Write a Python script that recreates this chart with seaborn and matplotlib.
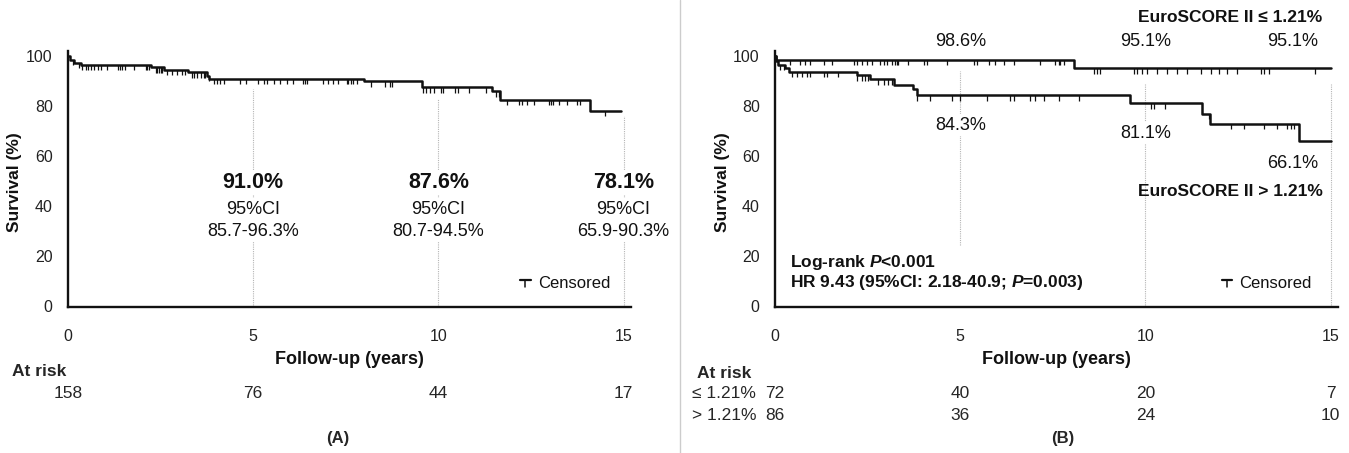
import numpy as np
import pandas as pd
import matplotlib
matplotlib.use("Agg")
import matplotlib.pyplot as plt
import seaborn as sns
from matplotlib import transforms

# ---------------- data ----------------
# Panel A: overall Kaplan-Meier
all_times = [0, 0.05, 0.15, 0.35, 2.23, 2.60, 3.25, 3.76, 3.82, 8.00, 9.57, 11.45, 11.66, 14.08]
all_surv = [100, 98.5, 97.3, 96.5, 95.5, 94.5, 93.5, 92.2, 91.0, 89.9, 87.6, 86.0, 82.5, 78.1]
all_end = 14.94
all_censor = [0.13, 0.30, 0.39, 0.48, 0.55, 0.62, 0.71, 0.80, 0.89, 1.05, 1.34, 1.41, 1.47, 1.53,
              1.77, 2.10, 2.14, 2.19, 2.37, 2.41, 2.45, 2.50, 2.55, 2.68, 2.81, 2.95, 3.08, 3.17,
              3.35, 3.40, 3.49, 3.58, 3.66, 3.71, 3.80, 3.93, 4.02, 4.11, 4.20, 4.65, 4.81, 5.14,
              5.28, 5.37, 5.55, 5.73, 5.91, 6.08, 6.35, 6.40, 6.44, 6.89, 7.02, 7.16, 7.29, 7.52,
              7.56, 7.63, 7.70, 7.79, 8.19, 8.55, 8.68, 8.76, 9.58, 9.67, 9.76, 9.89, 10.07, 10.13,
              10.46, 10.52, 10.83, 11.28, 11.55, 11.64, 11.86, 12.18, 12.27, 12.40, 12.58, 12.98,
              13.03, 13.09, 13.25, 13.48, 13.74, 13.83, 14.51]

# Panel B: EuroSCORE II <= 1.21%
low_times = [0, 0.03, 8.06]
low_surv = [100, 98.6, 95.1]
low_end = 15.0
low_censor = [0.09, 0.41, 0.68, 0.81, 0.95, 1.31, 1.53, 2.12, 2.21, 2.34, 2.48, 2.61, 2.84, 2.93,
              3.02, 3.15, 3.24, 3.29, 3.33, 3.60, 4.01, 4.10, 4.64, 5.36, 5.45, 5.77, 5.95, 6.17,
              6.44, 7.16, 7.57, 7.66, 7.70, 7.79, 8.60, 8.69, 8.78, 9.68, 9.78, 9.91, 10.05, 10.32,
              10.59, 10.86, 11.13, 11.49, 11.76, 11.98, 12.21, 12.48, 13.11, 13.20, 13.33, 14.59]

# Panel B: EuroSCORE II > 1.21%
high_times = [0, 0.02, 0.09, 0.27, 0.39, 2.21, 2.57, 3.22, 3.72, 3.83, 9.59, 11.53, 11.74, 14.14]
high_surv = [100, 98.0, 96.5, 95.3, 93.8, 92.3, 90.8, 88.4, 87.0, 84.3, 81.1, 77.0, 73.0, 66.1]
high_end = 15.0
high_censor = [0.14, 0.25, 0.45, 0.59, 0.72, 0.86, 0.95, 1.31, 1.40, 1.71, 2.21, 2.34, 2.43, 2.52,
               2.79, 2.93, 3.06, 3.15, 3.83, 4.19, 4.78, 5.00, 5.72, 6.35, 6.44, 6.89, 7.03, 7.25,
               7.66, 8.20, 10.14, 10.22, 10.54, 11.71, 12.30, 12.66, 13.20, 13.56, 13.83, 13.92, 14.01]

risk_times = [0, 5, 10, 15]
risk_all = [158, 76, 44, 17]
risk_low = [72, 40, 20, 7]
risk_high = [86, 36, 24, 10]

milestones_a = [5, 10, 15]
surv_a = ["91.0%", "87.6%", "78.1%"]
ci_a = ["85.7-96.3%", "80.7-94.5%", "65.9-90.3%"]
surv_b_low = ["98.6%", "95.1%", "95.1%"]
surv_b_high = ["84.3%", "81.1%", "66.1%"]

# ---------------- style ----------------
sns.set_theme(style="white")
plt.rcParams["font.family"] = ["Liberation Sans", "DejaVu Sans"]
plt.rcParams["mathtext.fontset"] = "custom"
plt.rcParams["mathtext.it"] = "Liberation Sans:bold:italic"
plt.rcParams["mathtext.rm"] = "Liberation Sans:bold"

fig = plt.figure(figsize=(13.49, 4.53), dpi=100)
W, H = 1349, 453
ppy = 2.505           # pixels per survival %
ax_w = 563
ymax = 102
ax_h = ymax * ppy
y0 = 306.5
axA = fig.add_axes([68 / W, (H - y0) / H, ax_w / W, ax_h / H])
axB = fig.add_axes([775 / W, (H - y0) / H, ax_w / W, ax_h / H])

def km_frame(times, surv, end):
    return pd.DataFrame({"time": list(times) + [end], "surv": list(surv) + [surv[-1]]})

def surv_at(times, surv, t):
    idx = np.searchsorted(np.asarray(times), np.asarray(t), side="right") - 1
    return np.asarray(surv)[idx]

def draw_km(ax, times, surv, end, censor):
    df = km_frame(times, surv, end)
    sns.lineplot(data=df, x="time", y="surv", drawstyle="steps-post", estimator=None,
                 sort=False, color="#111111", lw=1.8, ax=ax, zorder=4)
    s = surv_at(times, surv, censor)
    ax.vlines(censor, s - 2.2, s, color="#111111", lw=0.9, zorder=4)

def style_axes(ax):
    ax.set_xlim(0, 15.2)
    ax.set_ylim(0, ymax)
    ax.set_xticks([0, 5, 10, 15])
    ax.set_yticks([0, 20, 40, 60, 80, 100])
    for sp in ["top", "right"]:
        ax.spines[sp].set_visible(False)
    for sp in ["left", "bottom"]:
        ax.spines[sp].set_linewidth(1.7)
        ax.spines[sp].set_color("#111111")
    ax.tick_params(axis="x", direction="out", length=7.5, width=1.7, pad=9,
                   labelsize=11.5, colors="#111111", labelcolor="#222222")
    ax.tick_params(axis="y", direction="out", length=8, width=1.5, pad=3,
                   labelsize=11.5, colors="#111111", labelcolor="#222222")
    ax.set_xlabel("Follow-up (years)", fontsize=13, fontweight="bold", color="#111111")
    ax.xaxis.set_label_coords(0.5, (y0 - 360) / ax_h)
    ax.xaxis.label.set_va("center")
    ax.set_ylabel("Survival (%)", fontsize=12.5, fontweight="bold", color="#111111")
    ax.yaxis.label.set_va("center")

def censor_legend(ax, x):
    ax.plot([x - 0.14, x + 0.14], [10.5, 10.5], color="#111111", lw=1.6, clip_on=False)
    ax.plot([x, x], [10.5, 7.6], color="#111111", lw=1.1, clip_on=False)
    ax.text(x + 0.33, 9.3, "Censored", fontsize=12, va="center", ha="left", color="#111111")

guide = dict(color="#b5b5b5", lw=0.8, ls=(0, (1, 1)), zorder=1)
wbox = dict(facecolor="white", edgecolor="none", pad=1.5)

def val(px):
    """survival value at a vertical pixel position"""
    return (y0 - px) / ppy

# ---------------- panel A ----------------
draw_km(axA, all_times, all_surv, all_end, all_censor)
style_axes(axA)
axA.yaxis.set_label_coords((15 - 68) / ax_w, (y0 - 182) / ax_h)
for x, top in zip(milestones_a, [87, 83, 76]):
    axA.plot([x, x], [0.5, top], **guide)
for x, s, ci in zip(milestones_a, surv_a, ci_a):
    axA.text(x, val(182.7), s, fontsize=15.5, fontweight="bold", ha="center", va="center",
             color="#111111", bbox=wbox, zorder=3)
    axA.text(x, val(209), "95%CI", fontsize=13, ha="center", va="center",
             color="#111111", bbox=wbox, zorder=3)
    axA.text(x, val(231), ci, fontsize=13, ha="center", va="center",
             color="#111111", bbox=wbox, zorder=3)
censor_legend(axA, 12.35)

trA = transforms.blended_transform_factory(axA.transData, fig.transFigure)
fig.text(12 / W, 1 - 372 / H, "At risk", fontsize=12.5, fontweight="bold", ha="left", va="center")
for t, n in zip(risk_times, risk_all):
    axA.text(t, 1 - 393 / H, str(n), transform=trA, fontsize=12.5, ha="center", va="center")
fig.text(338 / W, 1 - 438 / H, "(A)", fontsize=12, fontweight="bold", ha="center", va="center")

# ---------------- panel B ----------------
draw_km(axB, low_times, low_surv, low_end, low_censor)
draw_km(axB, high_times, high_surv, high_end, high_censor)
style_axes(axB)
axB.yaxis.set_label_coords((722 - 775) / ax_w, (y0 - 182) / ax_h)
axB.plot([5, 5], [24.6, 94], **guide)
axB.plot([10, 10], [0.5, 89], **guide)
axB.plot([15, 15], [0.5, 89], **guide)

for x, s in zip([5, 10, 13.97], surv_b_low):
    axB.text(x, val(42), s, fontsize=13, ha="center", va="center", color="#111111", clip_on=False)
for x, px, s in zip([5, 10, 13.97], [125, 133, 163], surv_b_high):
    axB.text(x, val(px), s, fontsize=13, ha="center", va="center", color="#111111",
             bbox=wbox, zorder=3)
axB.text(14.78, val(17), "EuroSCORE II \u2264 1.21%", fontsize=12.5, fontweight="bold",
         ha="right", va="center", color="#111111", clip_on=False)
axB.text(14.78, val(192), "EuroSCORE II > 1.21%", fontsize=12.5, fontweight="bold",
         ha="right", va="center", color="#111111")
axB.text(0.4, val(263), "Log-rank $P$<0.001", fontsize=12.5, fontweight="bold",
         ha="left", va="center", color="#111111")
axB.text(0.4, val(283), "HR 9.43 (95%CI: 2.18-40.9; $P$=0.003)", fontsize=12.5, fontweight="bold",
         ha="left", va="center", color="#111111")
censor_legend(axB, 12.2)

trB = transforms.blended_transform_factory(axB.transData, fig.transFigure)
fig.text(697 / W, 1 - 373 / H, "At risk", fontsize=12.5, fontweight="bold", ha="left", va="center")
fig.text(692 / W, 1 - 393 / H, "\u2264 1.21%", fontsize=12.5, ha="left", va="center")
fig.text(692 / W, 1 - 415 / H, "> 1.21%", fontsize=12.5, ha="left", va="center")
for t, a, b in zip(risk_times, risk_low, risk_high):
    axB.text(t, 1 - 393 / H, str(a), transform=trB, fontsize=12.5, ha="center", va="center")
    axB.text(t, 1 - 415 / H, str(b), transform=trB, fontsize=12.5, ha="center", va="center")
fig.text(1063 / W, 1 - 438 / H, "(B)", fontsize=12, fontweight="bold", ha="center", va="center")

# divider
fig.add_artist(plt.Line2D([680 / W, 680 / W], [0, 1], transform=fig.transFigure,
                          color="#cccccc", lw=1))

fig.savefig("out.png", dpi=100, facecolor="white")
